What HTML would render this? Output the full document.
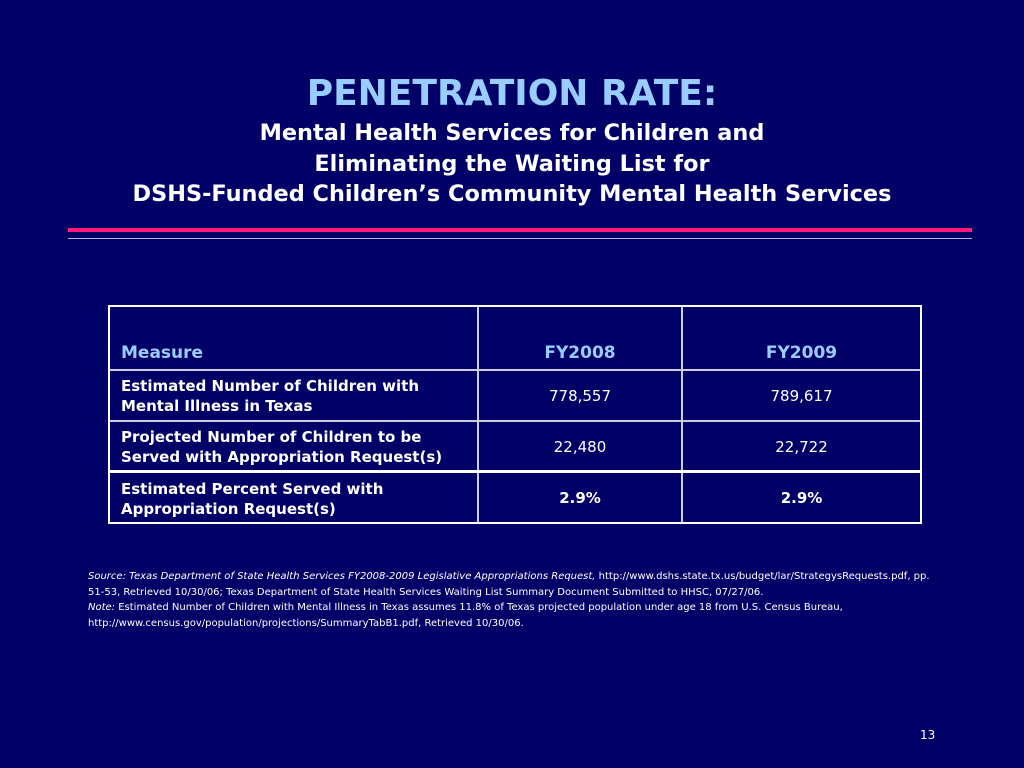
<!DOCTYPE html>
<html><head><meta charset="utf-8"><style>
body{margin:0;width:1024px;height:768px;background:#000066;font-family:Verdana,"DejaVu Sans",sans-serif;color:#fff;position:relative;overflow:hidden}
.a{position:absolute}
.t{font-weight:bold;text-align:center;width:1024px;left:0;font-family:"DejaVu Sans",sans-serif}
.c{position:absolute;font-size:15px;font-weight:bold;line-height:20px}
.n{position:absolute;font-size:15px;text-align:center}
.src{font-size:10px;line-height:15.5px;left:88px;width:858px}
</style></head><body>
<div class="a t" style="top:73px;font-size:36px;color:#99ccff;">PENETRATION RATE:</div>
<div class="a t" style="top:118px;font-size:22.4px;line-height:30.5px;">Mental Health Services for Children and<br>Eliminating the Waiting List for<br>DSHS-Funded Children’s Community Mental Health Services</div>
<div class="a" style="left:68px;top:228px;width:904px;height:4px;background:#ff1a75"></div>
<div class="a" style="left:68px;top:238px;width:904px;height:1px;background:#b0b8e8"></div>
<div class="a" style="left:108px;top:305px;width:810px;height:215px;border:2px solid #fff"></div>
<div class="a" style="left:477px;top:307px;width:2px;height:215px;background:#ccd"></div>
<div class="a" style="left:681px;top:307px;width:2px;height:215px;background:#ccd"></div>
<div class="a" style="left:110px;top:369px;width:810px;height:2px;background:#ccd"></div>
<div class="a" style="left:110px;top:420px;width:810px;height:2px;background:#ccd"></div>
<div class="a" style="left:110px;top:470px;width:810px;height:3px;background:#fff"></div>
<div class="c" style="left:121px;top:343px;font-size:17px;color:#99ccff">Measure</div>
<div class="n" style="left:479px;width:202px;top:343px;font-size:17px;font-weight:bold;color:#99ccff">FY2008</div>
<div class="n" style="left:683px;width:237px;top:343px;font-size:17px;font-weight:bold;color:#99ccff">FY2009</div>
<div class="c" style="left:121px;top:376px">Estimated Number of Children with<br>Mental Illness in Texas</div>
<div class="n" style="left:479px;width:202px;top:387px">778,557</div>
<div class="n" style="left:683px;width:237px;top:387px">789,617</div>
<div class="c" style="left:121px;top:427px">Projected Number of Children to be<br>Served with Appropriation Request(s)</div>
<div class="n" style="left:479px;width:202px;top:438px">22,480</div>
<div class="n" style="left:683px;width:237px;top:438px">22,722</div>
<div class="c" style="left:121px;top:479px">Estimated Percent Served with<br>Appropriation Request(s)</div>
<div class="n" style="left:479px;width:202px;top:489px;font-weight:bold">2.9%</div>
<div class="n" style="left:683px;width:237px;top:489px;font-weight:bold">2.9%</div>
<div class="a src" style="top:569px"><i>Source: Texas Department of State Health Services FY2008-2009 Legislative Appropriations Request,</i> http://www.dshs.state.tx.us/budget/lar/StrategysRequests.pdf, pp.<br>51-53, Retrieved 10/30/06; Texas Department of State Health Services Waiting List Summary Document Submitted to HHSC, 07/27/06.<br><i>Note:</i> Estimated Number of Children with Mental Illness in Texas assumes 11.8% of Texas projected population under age 18 from U.S. Census Bureau,<br>http://www.census.gov/population/projections/SummaryTabB1.pdf, Retrieved 10/30/06.</div>
<div class="a" style="left:920px;top:728px;font-size:12px">13</div>
</body></html>
